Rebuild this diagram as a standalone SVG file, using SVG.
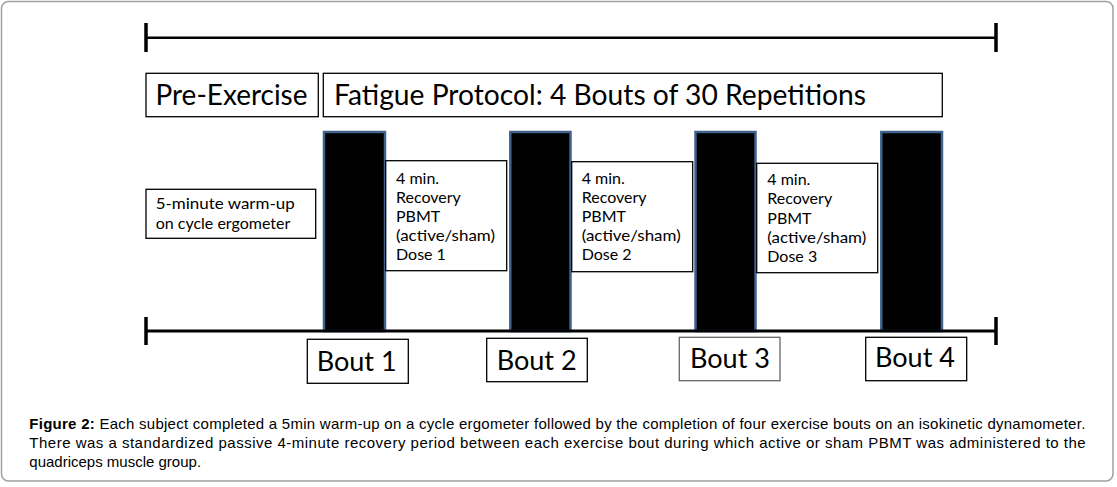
<svg xmlns="http://www.w3.org/2000/svg" width="1117" height="487" viewBox="0 0 1117 487">
<style>
.box{fill:#fff;stroke:#000;stroke-width:1.3}
.bar{fill:#000;stroke:#41628f;stroke-width:2.5}
.ln{stroke:#000;fill:none}
.big{font-family:Lato,"Open Sans",sans-serif;font-size:28px;fill:#000}
.bout{font-family:Lato,"Open Sans",sans-serif;font-size:26px;fill:#000}
.sm{font-family:Lato,"Open Sans",sans-serif;font-size:16px;fill:#000}
.cap{font-family:"Liberation Sans",Arial,sans-serif;font-size:15px;fill:#000}
</style>
<rect x="1.5" y="1.5" width="1111.5" height="479.5" rx="7" fill="#fff" stroke="#a0a0a0" stroke-width="1.5"/>
<g id="connectors">
  <line class="ln" x1="146" y1="37.7" x2="996" y2="37.7" stroke-width="2.5"/>
  <line class="ln" x1="146" y1="23" x2="146" y2="52" stroke-width="3.5"/>
  <line class="ln" x1="996" y1="23" x2="996" y2="52" stroke-width="3.5"/>
</g>
<g id="pre-exercise">
  <rect class="box" x="146" y="73.3" width="172.3" height="43.4"/>
  <text class="big" x="155.5" y="105" textLength="152" lengthAdjust="spacingAndGlyphs">Pre-Exercise</text>
</g>
<g id="fatigue-protocol">
  <rect class="box" x="323.3" y="73.3" width="619" height="43.4"/>
  <text class="big" x="334" y="105" textLength="532" lengthAdjust="spacingAndGlyphs">Fatigue Protocol: 4 Bouts of 30 Repetitions</text>
</g>
<g id="warmup">
  <rect class="box" x="146" y="189.3" width="169.7" height="49"/>
  <text class="sm" x="155.7" y="209" textLength="139" lengthAdjust="spacingAndGlyphs">5-minute warm-up</text>
  <text class="sm" x="155.7" y="228.5">on cycle ergometer</text>
</g>
<g id="bar1"><rect class="bar" x="324" y="132" width="61" height="199"/></g>
<g id="bar2"><rect class="bar" x="510.3" y="132" width="60.2" height="199"/></g>
<g id="bar3"><rect class="bar" x="695.5" y="132" width="60" height="199"/></g>
<g id="bar4"><rect class="bar" x="881.3" y="132" width="60.7" height="199"/></g>
<g id="axis">
  <line class="ln" x1="146" y1="331" x2="996" y2="331" stroke-width="3"/>
  <line class="ln" x1="146" y1="317" x2="146" y2="345" stroke-width="3.5"/>
  <line class="ln" x1="996" y1="317" x2="996" y2="345" stroke-width="3.5"/>
</g>
<g id="recovery1">
  <rect class="box" x="385.7" y="160.7" width="121" height="110"/>
  <text class="sm" x="396" y="183.5">4 min.</text>
  <text class="sm" x="396" y="202.5">Recovery</text>
  <text class="sm" x="396" y="221.5">PBMT</text>
  <text class="sm" x="396" y="240.5" textLength="99" lengthAdjust="spacingAndGlyphs">(active/sham)</text>
  <text class="sm" x="396" y="259.5">Dose 1</text>
</g>
<g id="recovery2">
  <rect class="box" x="571.7" y="161.7" width="121" height="110"/>
  <text class="sm" x="581.7" y="184">4 min.</text>
  <text class="sm" x="581.7" y="203">Recovery</text>
  <text class="sm" x="581.7" y="222">PBMT</text>
  <text class="sm" x="581.7" y="241" textLength="99" lengthAdjust="spacingAndGlyphs">(active/sham)</text>
  <text class="sm" x="581.7" y="260">Dose 2</text>
</g>
<g id="recovery3">
  <rect class="box" x="756.7" y="163.3" width="121" height="109.4"/>
  <text class="sm" x="767.3" y="185">4 min.</text>
  <text class="sm" x="767.3" y="204.3">Recovery</text>
  <text class="sm" x="767.3" y="223.6">PBMT</text>
  <text class="sm" x="767.3" y="242.9" textLength="99" lengthAdjust="spacingAndGlyphs">(active/sham)</text>
  <text class="sm" x="767.3" y="262.2">Dose 3</text>
</g>
<g id="bout1">
  <rect class="box" x="307.3" y="339.3" width="101" height="44"/>
  <text class="bout" x="316.7" y="370.7" textLength="80" lengthAdjust="spacingAndGlyphs">Bout 1</text>
</g>
<g id="bout2">
  <rect class="box" x="486.7" y="338.3" width="100.6" height="43.4"/>
  <text class="bout" x="496.7" y="370" textLength="80" lengthAdjust="spacingAndGlyphs">Bout 2</text>
</g>
<g id="bout3">
  <rect class="box" x="679.3" y="337.3" width="100.7" height="43.4" style="stroke:#666"/>
  <text class="bout" x="690" y="368.3" textLength="80" lengthAdjust="spacingAndGlyphs">Bout 3</text>
</g>
<g id="bout4">
  <rect class="box" x="865.7" y="337.3" width="101" height="43.4"/>
  <text class="bout" x="875" y="366.7" textLength="80" lengthAdjust="spacingAndGlyphs">Bout 4</text>
</g>
<g id="caption">
  <text class="cap" x="29.3" y="429" textLength="1056" lengthAdjust="spacing"><tspan font-weight="bold">Figure 2:</tspan> Each subject completed a 5min warm-up on a cycle ergometer followed by the completion of four exercise bouts on an isokinetic dynamometer.</text>
  <text class="cap" x="29.3" y="447.7" textLength="1056.4" lengthAdjust="spacing">There was a standardized passive 4-minute recovery period between each exercise bout during which active or sham PBMT was administered to the</text>
  <text class="cap" x="29.3" y="466.5">quadriceps muscle group.</text>
</g>
</svg>
